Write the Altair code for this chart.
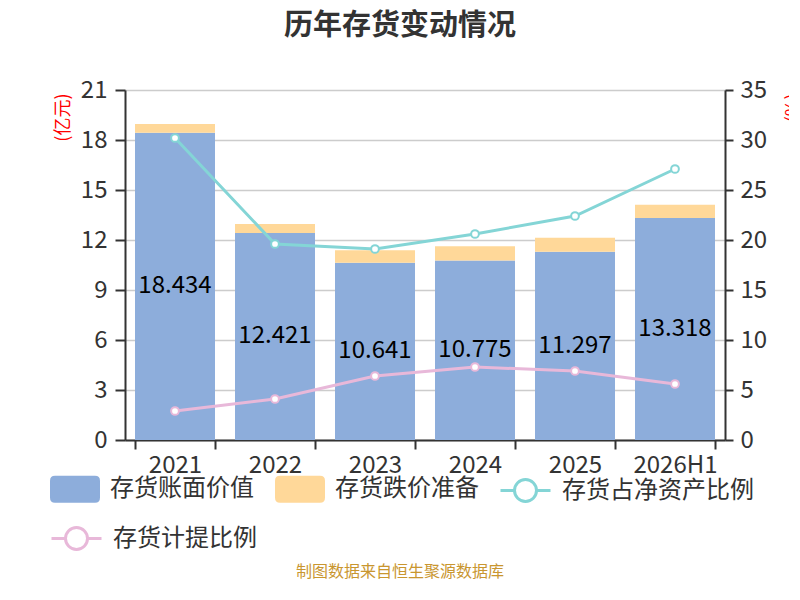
import altair as alt
import pandas as pd

FONT = "Noto Sans CJK SC"

years = ["2021", "2022", "2023", "2024", "2025", "2026H1"]
book_value = [18.434, 12.421, 10.641, 10.775, 11.297, 13.318]
impairment = [0.53, 0.54, 0.74, 0.85, 0.84, 0.79]
net_asset_ratio = [30.2, 19.6, 19.1, 20.6, 22.4, 27.1]
provision_ratio = [2.9, 4.1, 6.4, 7.3, 6.9, 5.6]
left_ticks = [0, 3, 6, 9, 12, 15, 18, 21]
right_ticks = [0, 5, 10, 15, 20, 25, 30, 35]

S_BOOK = "存货账面价值"
S_IMP = "存货跌价准备"
S_NET = "存货占净资产比例"
S_PROV = "存货计提比例"
TITLE = "历年存货变动情况"
SOURCE = "制图数据来自恒生聚源数据库"

bars_df = pd.DataFrame({
    "year": years * 2,
    "series": [S_BOOK] * len(years) + [S_IMP] * len(years),
    "value": book_value + impairment,
    "ord": [0] * len(years) + [1] * len(years),
})
label_df = pd.DataFrame({"year": years, "value": book_value})
lines_df = pd.DataFrame({
    "year": years * 2,
    "series": [S_NET] * len(years) + [S_PROV] * len(years),
    "value": net_asset_ratio + provision_ratio,
})

RECT = ("M-0.8,-0.54 L0.8,-0.54 Q1,-0.54 1,-0.34 L1,0.34 Q1,0.54 0.8,0.54 "
        "L-0.8,0.54 Q-1,0.54 -1,0.34 L-1,-0.34 Q-1,-0.54 -0.8,-0.54 Z")
LINESYM = ("M-1,0 L-0.44,0 M0.44,0 L1,0 "
           "M-0.44,0 C-0.44,-0.243 -0.243,-0.44 0,-0.44 C0.243,-0.44 0.44,-0.243 0.44,0 "
           "C0.44,0.243 0.243,0.44 0,0.44 C-0.243,0.44 -0.44,0.243 -0.44,0 Z")


def legend(x, y, sym, stroke_w=0):
    return alt.Legend(
        title=None, orient="none", legendX=x, legendY=y, direction="horizontal",
        symbolType=sym, symbolSize=2500, symbolStrokeWidth=stroke_w,
        symbolFillColor="white" if stroke_w else alt.Undefined,
        labelFontSize=24, labelColor="#333333", labelFont=FONT, labelOffset=10,
        columnPadding=21, labelLimit=400, padding=0,
    )


x_enc = alt.X(
    "year:N", sort=years,
    scale=alt.Scale(paddingInner=0.2, paddingOuter=0.1),
    axis=alt.Axis(
        title=None, labelAngle=0, tickBand="extent", tickSize=9, tickWidth=2,
        tickColor="#333333", domainColor="#333333", domainWidth=2,
        labelFontSize=24, labelColor="#333333", labelFont=FONT, labelPadding=4,
        grid=False,
    ),
)

left_axis = alt.Axis(
    values=left_ticks, title="(亿元)", titleColor="red", titleFontSize=18,
    titleFontWeight="normal", titleFont=FONT, titleAngle=-90, titleX=-62, titleY=3,
    titleAlign="right", titleBaseline="middle",
    grid=True, gridColor="#cccccc", gridWidth=1.5,
    domainColor="#333333", domainWidth=2, tickColor="#333333", tickWidth=2, tickSize=10,
    labelFontSize=24, labelColor="#333333", labelFont=FONT, labelPadding=8,
)
right_axis = alt.Axis(
    orient="right", values=right_ticks, title="(%)", titleColor="red", titleFontSize=18,
    titleFontWeight="normal", titleFont=FONT, titleAngle=-90, titleX=68, titleY=3,
    titleAlign="right", titleBaseline="middle", grid=False,
    domainColor="#333333", domainWidth=2, tickColor="#333333", tickWidth=2, tickSize=8,
    labelFontSize=24, labelColor="#333333", labelFont=FONT, labelPadding=7,
)

bars = alt.Chart(bars_df).mark_bar().encode(
    x=x_enc,
    y=alt.Y("value:Q", stack="zero", scale=alt.Scale(domain=[0, 21]), axis=left_axis),
    color=alt.Color(
        "series:N",
        scale=alt.Scale(domain=[S_BOOK, S_IMP], range=["#8DADDB", "#FFD899"]),
        legend=legend(-75, 374, RECT),
    ),
    order=alt.Order("ord:Q", sort="ascending"),
)

labels = alt.Chart(label_df).transform_calculate(
    half="datum.value / 2"
).mark_text(fontSize=24, color="black", font=FONT).encode(
    x=x_enc,
    y=alt.Y("half:Q", scale=alt.Scale(domain=[0, 21]), axis=left_axis),
    text=alt.Text("value:Q", format=".3f"),
)


def line_layer(series, colour, lx, ly):
    return alt.Chart(lines_df).transform_filter(
        alt.datum.series == series
    ).mark_line(
        strokeWidth=3,
        point=alt.OverlayMarkDef(filled=False, fill="white", size=60, strokeWidth=2),
    ).encode(
        x=x_enc,
        y=alt.Y("value:Q", scale=alt.Scale(domain=[0, 35]), axis=right_axis),
        color=alt.Color(
            "series:N",
            scale=alt.Scale(domain=[series], range=[colour]),
            legend=legend(lx, ly, LINESYM, 3),
        ),
    )


teal = line_layer(S_NET, "#84D5D6", 374, 374)
pink = line_layer(S_PROV, "#E8B8D9", -75, 422)

source = alt.Chart(alt.Data(values=[{"t": SOURCE}])).mark_text(
    fontSize=16, color="#C9962F", font=FONT
).encode(text="t:N", x=alt.value(275), y=alt.value(482))

bar_group = alt.layer(bars, labels)
line_group = alt.layer(teal, pink).resolve_scale(color="independent")

chart = alt.layer(bar_group, line_group, source).resolve_scale(
    y="independent", color="independent"
).properties(
    width=600, height=350,
    autosize=alt.AutoSizeParams(type="none"),
    padding={"left": 117, "top": 82, "right": 64, "bottom": 143},
    title=alt.TitleParams(
        TITLE, fontSize=29, fontWeight="bold", font=FONT, color="#333333",
        anchor="middle", dx=-25, offset=37,
    ),
).configure_view(stroke=None).configure(background="white")

chart.save("out.html", embed_options={"renderer": "svg", "actions": False})
